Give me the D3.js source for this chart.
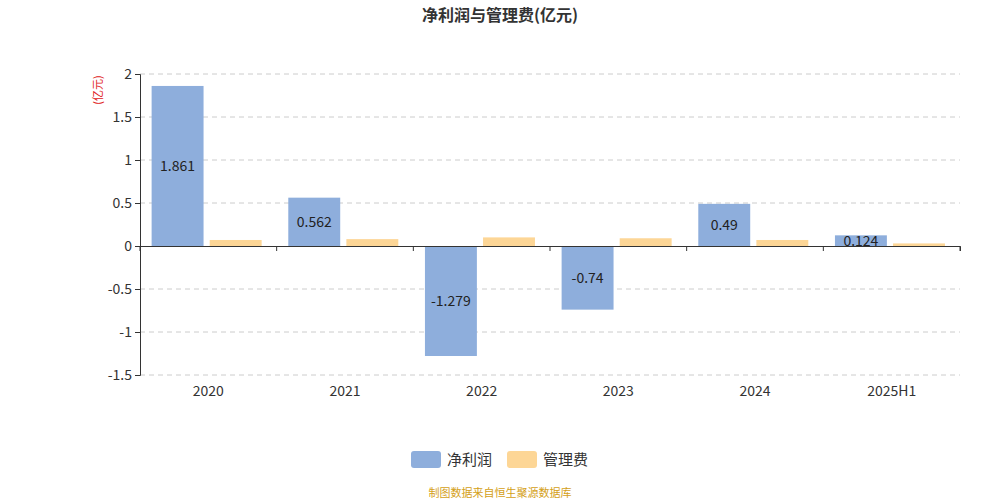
<!DOCTYPE html>
<html><head><meta charset="utf-8">
<script src="https://cdn.jsdelivr.net/npm/d3@7"></script>
<style>body{margin:0;background:#fff;font-family:"Noto Sans CJK SC","Noto Sans",sans-serif;}</style>
</head><body><div id="chart"></div>
<script>
const categories = ["2020", "2021", "2022", "2023", "2024", "2025H1"];
const netProfit = [1.861, 0.562, -1.279, -0.74, 0.49, 0.124];
const mgmtFee = [0.07, 0.08, 0.10, 0.09, 0.07, 0.03];
const yTicks = [2, 1.5, 1, 0.5, 0, -0.5, -1, -1.5];

const width = 1000, height = 500;
const margin = { top: 74, right: 40, bottom: 125, left: 140 };
const svg = d3.select("#chart").append("svg").attr("width", width).attr("height", height);
const font = '"Noto Sans CJK SC","Noto Sans",sans-serif';

svg.append("text").attr("x", width / 2).attr("y", 21).attr("text-anchor", "middle")
    .style("font-size", "16px").style("font-weight", "bold").style("fill", "#333")
    .style("font-family", font).text("净利润与管理费(亿元)");

const x = d3.scaleBand().domain(categories).range([margin.left, width - margin.right]);
const y = d3.scaleLinear().domain([-1.5, 2]).range([height - margin.bottom, margin.top]);

// 网格线
svg.append("g").selectAll("line").data(yTicks.filter(d => d !== 0)).enter().append("line")
    .attr("x1", margin.left).attr("x2", width - margin.right)
    .attr("y1", d => y(d)).attr("y2", d => y(d))
    .attr("stroke", "#ccc").attr("stroke-dasharray", "5,4");

// Y轴
const yAxis = svg.append("g").attr("transform", `translate(${margin.left},0)`)
    .call(d3.axisLeft(y).tickValues(yTicks).tickSize(5).tickFormat(d => d));
yAxis.select(".domain").attr("stroke", "#333");
yAxis.selectAll("line").attr("stroke", "#333");
yAxis.selectAll("text").style("font-size", "14px").style("fill", "#333").style("font-family", font);

svg.append("text").attr("transform", `translate(102,${margin.top + 16}) rotate(-90)`)
    .attr("text-anchor", "middle").style("font-size", "11px").style("fill", "#e02020")
    .style("font-family", font).text("(亿元)");

const inner = x.bandwidth();
const bw = inner * 0.38;
// 净利润
svg.append("g").selectAll("rect").data(netProfit).enter().append("rect")
    .attr("x", (d, i) => x(categories[i]) + inner * 0.085)
    .attr("y", d => y(Math.max(0, d))).attr("width", bw)
    .attr("height", d => Math.abs(y(d) - y(0))).attr("fill", "#8eaedc");
// 管理费
svg.append("g").selectAll("rect").data(mgmtFee).enter().append("rect")
    .attr("x", (d, i) => x(categories[i]) + inner * 0.085 + bw + inner * 0.045)
    .attr("y", d => y(d)).attr("width", bw)
    .attr("height", d => y(0) - y(d)).attr("fill", "#fdd696");

svg.append("g").selectAll("text").data(netProfit).enter().append("text")
    .attr("x", (d, i) => x(categories[i]) + inner * 0.085 + bw / 2)
    .attr("y", d => (y(d) + y(0)) / 2 + 5).attr("text-anchor", "middle")
    .style("font-size", "14px").style("fill", "#222").style("font-family", font)
    .text(d => d);

// X轴（零线）
const xAxis = svg.append("g").attr("transform", `translate(0,${y(0)})`)
    .call(d3.axisBottom(x).tickSize(5).tickFormat(""));
xAxis.select(".domain").attr("stroke", "#333");
xAxis.selectAll(".tick").remove();
xAxis.selectAll("line.b").data(d3.range(categories.length + 1)).enter().append("line")
    .attr("x1", i => margin.left + i * inner).attr("x2", i => margin.left + i * inner)
    .attr("y1", 0).attr("y2", 5).attr("stroke", "#333");

svg.append("g").selectAll("text").data(categories).enter().append("text")
    .attr("x", d => x(d) + inner / 2).attr("y", y(-1.5) + 21).attr("text-anchor", "middle")
    .style("font-size", "14px").style("fill", "#333").style("font-family", font).text(d => d);

// 图例
const legend = [["净利润", "#8eaedc"], ["管理费", "#fdd696"]];
const lg = svg.append("g").attr("transform", "translate(411,451)");
legend.forEach((l, i) => {
    const gx = i * 96;
    lg.append("rect").attr("x", gx).attr("y", 0).attr("width", 30).attr("height", 17)
        .attr("rx", 3).attr("fill", l[1]);
    lg.append("text").attr("x", gx + 36).attr("y", 14).style("font-size", "15px")
        .style("fill", "#333").style("font-family", font).text(l[0]);
});

svg.append("text").attr("x", width / 2).attr("y", 497).attr("text-anchor", "middle")
    .style("font-size", "11px").style("fill", "#d4a017").style("font-family", font)
    .text("制图数据来自恒生聚源数据库");
</script></body></html>
